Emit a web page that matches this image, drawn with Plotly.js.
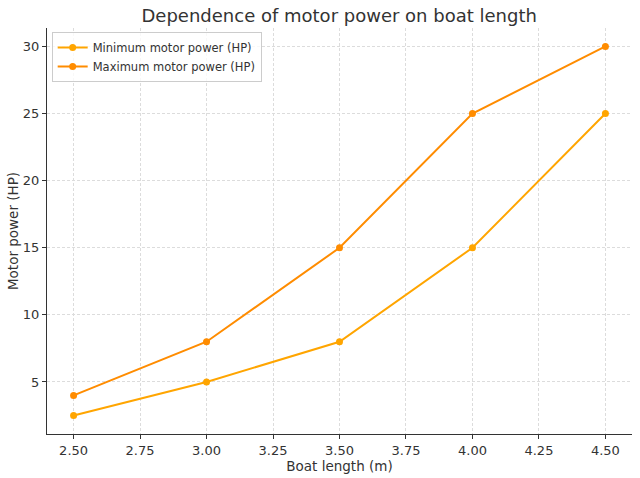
<!DOCTYPE html>
<html>
<head>
<meta charset="utf-8">
<script src="https://cdn.plot.ly/plotly-3.0.1.min.js"></script>
<style>html,body{margin:0;padding:0;background:#fff;}#chart{width:640px;height:478px;}</style>
</head>
<body>
<div id="chart"></div>
<script>
const boatLength = [2.5, 3.0, 3.5, 4.0, 4.5];
const minPower = [2.5, 5, 8, 15, 25];
const maxPower = [4, 8, 15, 25, 30];
const xTicks = [2.5, 2.75, 3.0, 3.25, 3.5, 3.75, 4.0, 4.25, 4.5];
const xTickText = ["2.50", "2.75", "3.00", "3.25", "3.50", "3.75", "4.00", "4.25", "4.50"];
const yTicks = [5, 10, 15, 20, 25, 30];

const fam = "DejaVu Sans, sans-serif";
const traces = [
  {x: boatLength, y: minPower, name: "Minimum motor power (HP)", mode: "lines+markers",
   line: {color: "#FFA500", width: 2}, marker: {color: "#FFA500", size: 7}},
  {x: boatLength, y: maxPower, name: "Maximum motor power (HP)", mode: "lines+markers",
   line: {color: "#FF8C00", width: 2}, marker: {color: "#FF8C00", size: 7}}
];
const layout = {
  width: 640, height: 478,
  margin: {l: 47, r: 8, t: 28, b: 44},
  paper_bgcolor: "#ffffff", plot_bgcolor: "#ffffff",
  font: {family: fam, size: 13, color: "#333333"},
  title: {text: "Dependence of motor power on boat length", font: {size: 18, family: fam, color: "#333333"}, x: 0.53, xanchor: "center", y: 0.967, yanchor: "middle"},
  xaxis: {
    range: [2.4, 4.6], tickvals: xTicks, ticktext: xTickText,
    showgrid: true, gridcolor: "#dcdcdc", griddash: "3px,2px", gridwidth: 1,
    showline: true, linecolor: "#333333", linewidth: 1.2,
    ticks: "outside", ticklen: 4, tickcolor: "#333333",
    zeroline: false, tickfont: {size: 13},
    title: {text: "Boat length (m)", font: {size: 13.5}, standoff: 1}
  },
  yaxis: {
    range: [1.125, 31.375], tickvals: yTicks,
    showgrid: true, gridcolor: "#dcdcdc", griddash: "3px,2px", gridwidth: 1,
    showline: true, linecolor: "#333333", linewidth: 1.2,
    ticks: "outside", ticklen: 4, tickcolor: "#333333",
    zeroline: false, tickfont: {size: 13},
    title: {text: "Motor power (HP)", font: {size: 13.5}, standoff: 1}
  },
  legend: {
    x: 0.008, y: 0.99, xanchor: "left", yanchor: "top",
    bgcolor: "rgba(255,255,255,0.8)", bordercolor: "#cccccc", borderwidth: 1,
    font: {size: 11.5, color: "#333333"}, itemwidth: 30
  },
  showlegend: true
};
Plotly.newPlot("chart", traces, layout, {displayModeBar: false, staticPlot: true});
</script>
</body>
</html>
